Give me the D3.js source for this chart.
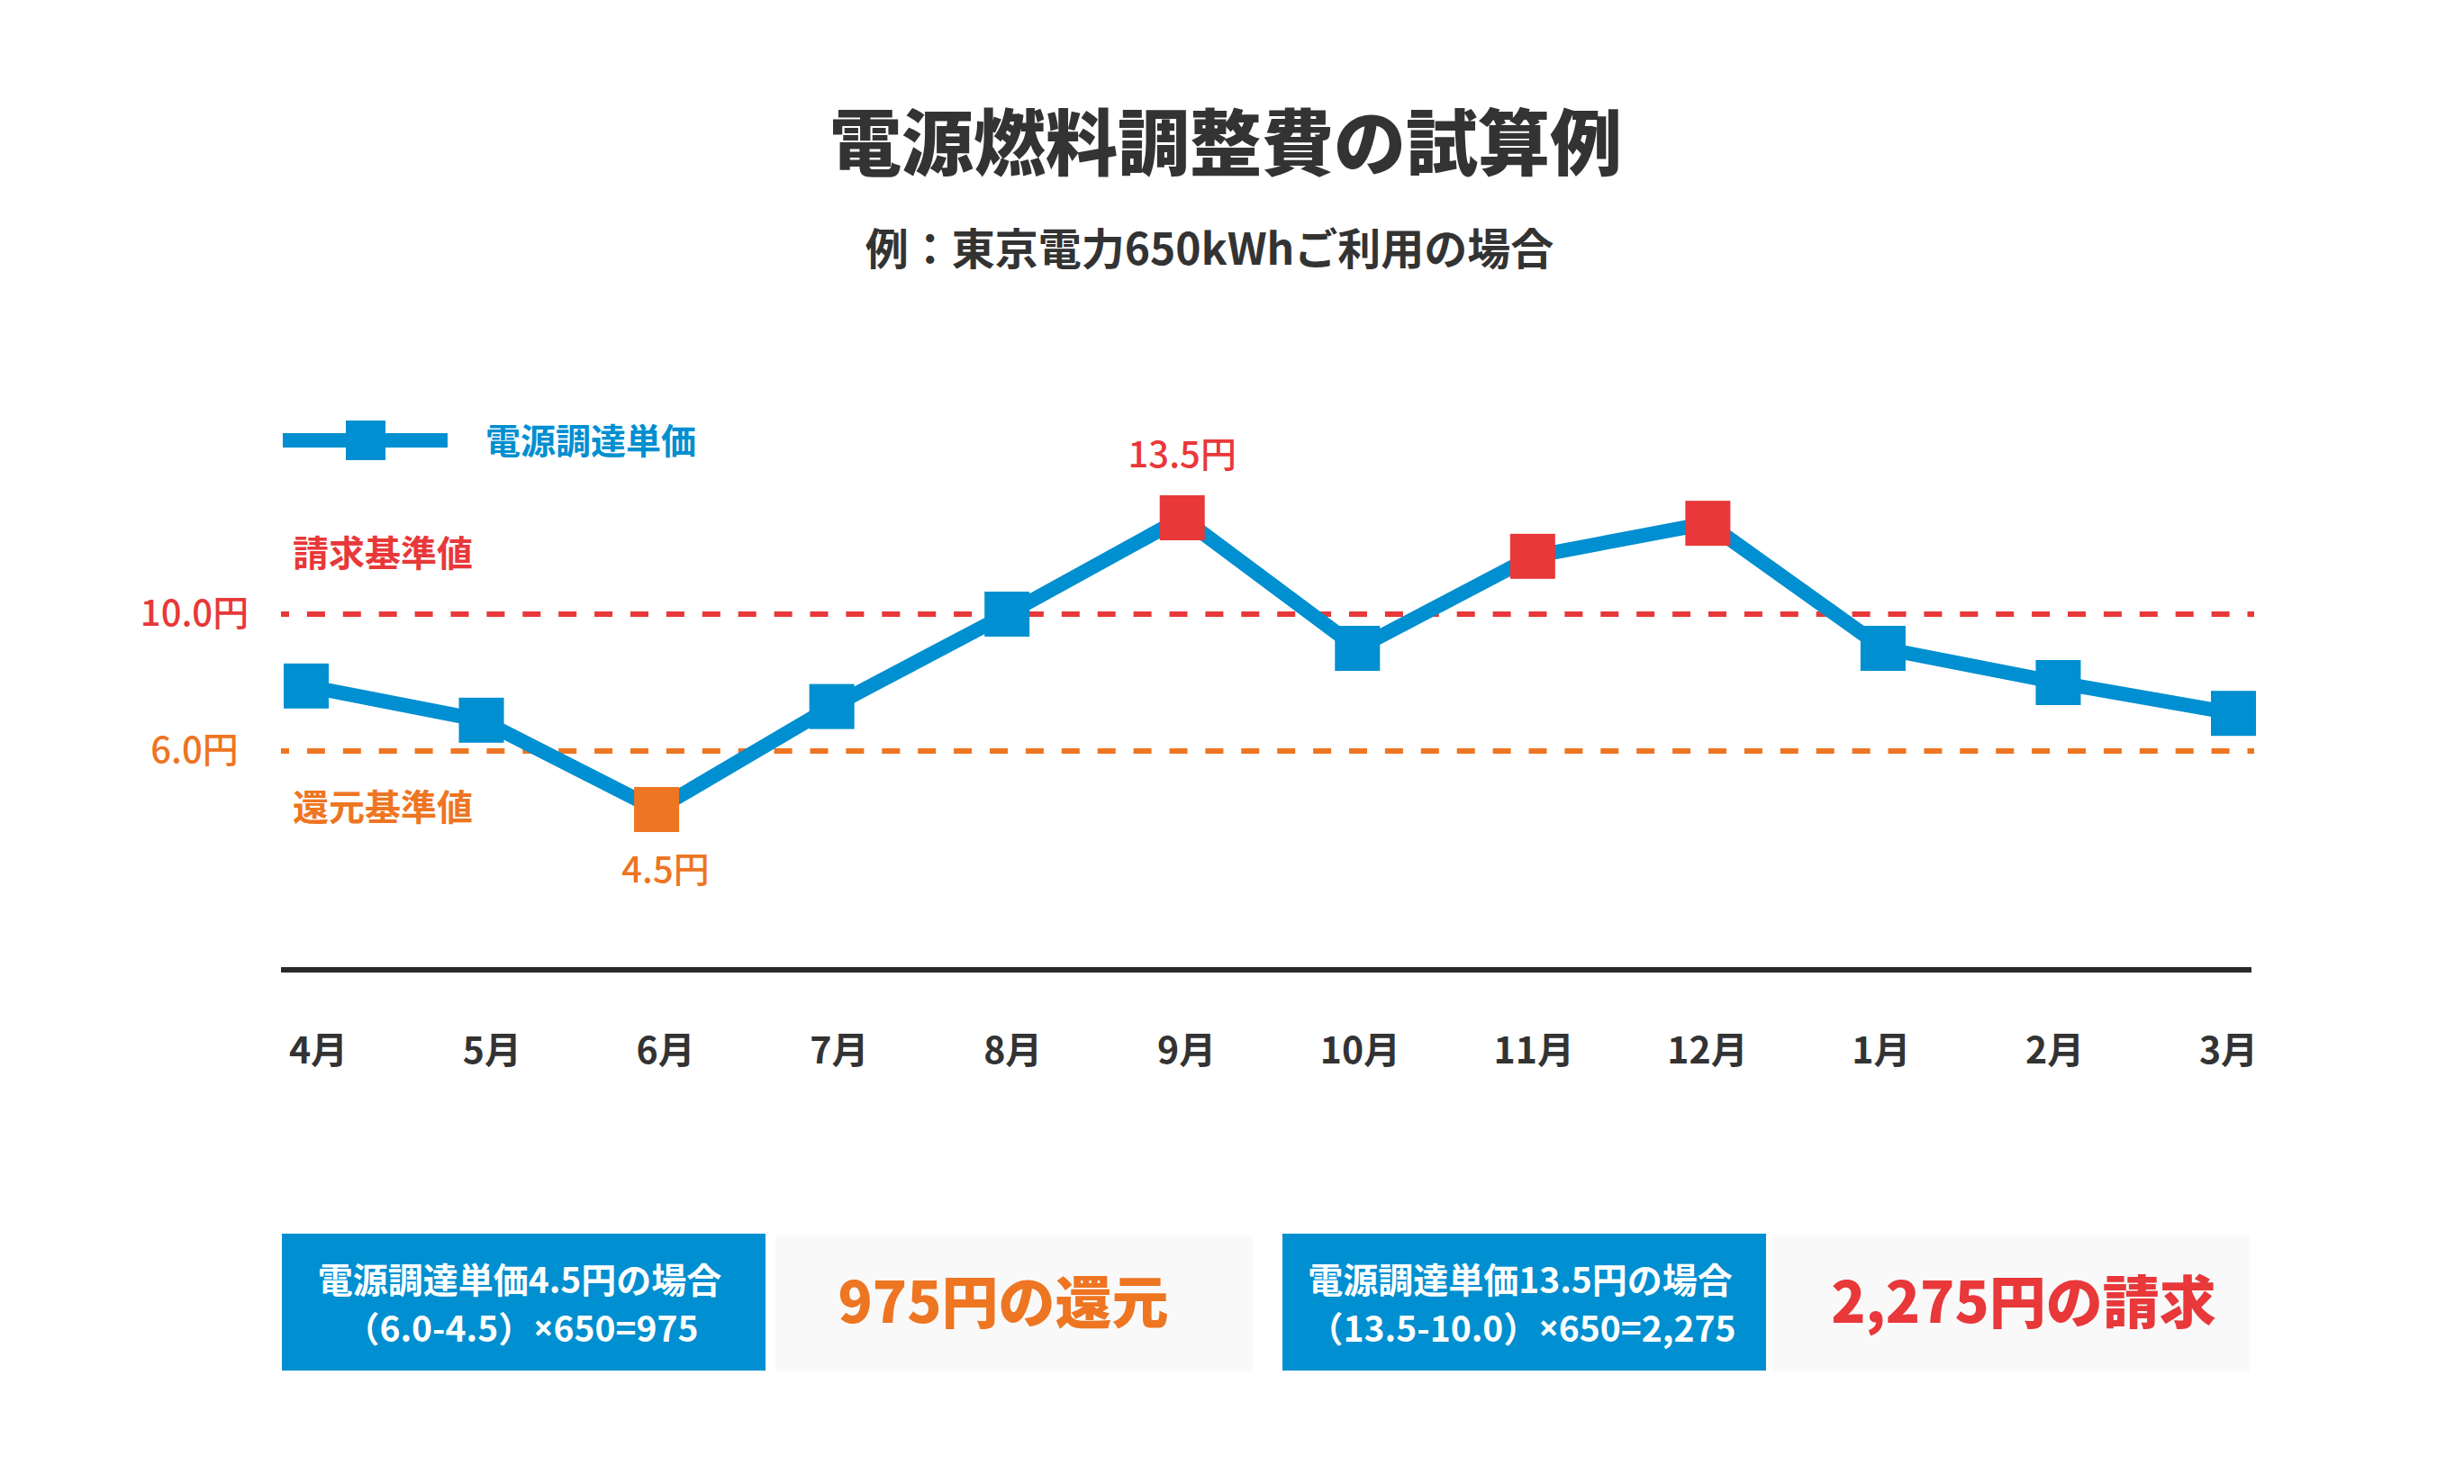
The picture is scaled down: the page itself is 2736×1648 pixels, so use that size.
<!DOCTYPE html>
<html lang="ja">
<head>
<meta charset="utf-8">
<script src="https://cdn.jsdelivr.net/npm/d3@7"></script>
<style>
  html, body { margin: 0; padding: 0; background: #ffffff; }
  svg { display: block; font-family: "Noto Sans CJK JP", "Noto Sans", sans-serif; }
</style>
</head>
<body>
<svg id="chart" width="2736" height="1648"></svg>
<script>
// ---- data ----
const months = ["4月", "5月", "6月", "7月", "8月", "9月", "10月", "11月", "12月", "1月", "2月", "3月"];
const unitPrices = [7.9, 6.9, 4.5, 7.3, 10.0, 13.5, 9.0, 12.1, 13.3, 9.0, 8.0, 7.1];
const billingBase = 10.0;   // 請求基準値
const refundBase = 6.0;     // 還元基準値
const thresholdLabels = ["10.0円", "6.0円"];
const thresholdNames = ["請求基準値", "還元基準値"];
const pointLabels = [{ month: "6月", text: "4.5円" }, { month: "9月", text: "13.5円" }];
const seriesName = "電源調達単価";
const titleText = "電源燃料調整費の試算例";
const subtitleText = "例：東京電力650kWhご利用の場合";
const boxTexts = [
  { line1: "電源調達単価4.5円の場合", line2: "（6.0-4.5）×650=975", result: "975円の還元", kind: "refund" },
  { line1: "電源調達単価13.5円の場合", line2: "（13.5-10.0）×650=2,275", result: "2,275円の請求", kind: "billing" }
];

// ---- styles ----
const BLUE = "#008fd0", RED = "#e8383a", ORANGE = "#ee7522", DARK = "#333333";

const svg = d3.select("#chart");

// scales
const x = d3.scalePoint().domain(months).range([340, 2480]);
const xLabel = d3.scalePoint().domain(months).range([353, 2474]);
// illustrative chart: not drawn to a single linear ratio
const y = d3.scaleLinear().domain([4.5, 6, 10, 13.5]).range([899, 834, 682, 575]);
const colorOf = v => v > billingBase ? RED : (v < refundBase ? ORANGE : BLUE);

// title
svg.append("text").attr("x", 1361).attr("y", 153)
  .attr("text-anchor", "middle").attr("dominant-baseline", "central")
  .attr("font-size", 80).attr("font-weight", 900).attr("fill", DARK).text(titleText);
svg.append("text").attr("x", 1343).attr("y", 273)
  .attr("text-anchor", "middle").attr("dominant-baseline", "central")
  .attr("font-size", 48).attr("font-weight", 700).attr("fill", DARK).text(subtitleText);

// legend
const lg = svg.append("g");
lg.append("line").attr("x1", 314).attr("x2", 497).attr("y1", 489).attr("y2", 489)
  .attr("stroke", BLUE).attr("stroke-width", 16);
lg.append("rect").attr("x", 406 - 22).attr("y", 489 - 22).attr("width", 44).attr("height", 44).attr("fill", BLUE);
lg.append("text").attr("x", 539).attr("y", 487).attr("dominant-baseline", "central")
  .attr("font-size", 39).attr("font-weight", 700).attr("fill", BLUE).text(seriesName);

// threshold lines
const thr = [
  { v: billingBase, c: RED, label: thresholdLabels[0], name: thresholdNames[0], nameDy: -70 },
  { v: refundBase, c: ORANGE, label: thresholdLabels[1], name: thresholdNames[1], nameDy: 60 }
];
thr.forEach(t => {
  svg.append("line").attr("x1", 312).attr("x2", 2503).attr("y1", y(t.v)).attr("y2", y(t.v))
    .attr("stroke", t.c).attr("stroke-width", 6)
    .attr("stroke-dasharray", "20 19.9").attr("stroke-dashoffset", 11);
  svg.append("text").attr("x", 216).attr("y", y(t.v) - 4)
    .attr("text-anchor", "middle").attr("dominant-baseline", "central")
    .attr("font-size", 40).attr("font-weight", 500).attr("fill", t.c).text(t.label);
  svg.append("text").attr("x", 325).attr("y", y(t.v) + t.nameDy)
    .attr("dominant-baseline", "central")
    .attr("font-size", 40).attr("font-weight", 700).attr("fill", t.c).text(t.name);
});

// baseline axis
const axisG = svg.append("g").attr("transform", "translate(0,1077)");
axisG.append("line").attr("x1", 312).attr("x2", 2500).attr("stroke", "#2a2a2a").attr("stroke-width", 6);
const xAxis = d3.axisBottom(xLabel).tickSize(0).tickPadding(0);
const ax = svg.append("g").attr("transform", "translate(0,1163)").call(xAxis);
ax.select(".domain").remove();
ax.selectAll("text").attr("dy", null).attr("y", 0).attr("dominant-baseline", "central")
  .attr("font-size", 41).attr("font-weight", 700).attr("fill", DARK)
  .attr("font-family", "'Noto Sans CJK JP', sans-serif");

// data line
const data = months.map((m, i) => ({ m, v: unitPrices[i] }));
svg.append("path").datum(data)
  .attr("fill", "none").attr("stroke", BLUE).attr("stroke-width", 16).attr("stroke-linejoin", "miter")
  .attr("d", d3.line().x(d => x(d.m)).y(d => y(d.v)));
svg.selectAll("rect.pt").data(data).enter().append("rect").attr("class", "pt")
  .attr("x", d => x(d.m) - 25).attr("y", d => y(d.v) - 25)
  .attr("width", 50).attr("height", 50).attr("fill", d => colorOf(d.v));

// point labels
pointLabels.forEach(p => {
  const v = unitPrices[months.indexOf(p.month)];
  const above = v > billingBase;
  svg.append("text").attr("x", x(p.month) + (above ? 0 : 10)).attr("y", y(v) + (above ? -73 : 64))
    .attr("text-anchor", "middle").attr("dominant-baseline", "central")
    .attr("font-size", 40).attr("font-weight", 500).attr("fill", colorOf(v)).text(p.text);
});

// bottom boxes
const boxLayout = [
  { bx: 313, lx: 861, rdx: -12 },
  { bx: 1424, lx: 1968, rdx: 14 }
];
boxTexts.forEach((b, i) => {
  const L = boxLayout[i];
  svg.append("rect").attr("x", L.bx).attr("y", 1370).attr("width", 537).attr("height", 152).attr("fill", BLUE);
  svg.append("rect").attr("x", L.lx).attr("y", 1372).attr("width", 530).attr("height", 151).attr("fill", "#f9f9f9");
  const cx = L.bx + 268;
  svg.append("text").attr("x", cx - 4).attr("y", 1419).attr("text-anchor", "middle").attr("dominant-baseline", "central")
    .attr("font-size", 39).attr("font-weight", 700).attr("fill", "#ffffff").text(b.line1);
  const parts = b.line2.split("×");
  const t2 = svg.append("text").attr("x", cx - 2).attr("y", 1473).attr("text-anchor", "middle").attr("dominant-baseline", "central")
    .attr("font-size", 39).attr("font-weight", 700).attr("fill", "#ffffff");
  t2.append("tspan").text(parts[0]);
  t2.append("tspan").attr("font-family", "'Noto Sans', sans-serif").text("×");
  t2.append("tspan").text(parts[1]);
  svg.append("text").attr("x", L.lx + 265 + L.rdx).attr("y", 1441).attr("text-anchor", "middle").attr("dominant-baseline", "central")
    .attr("font-size", 63).attr("font-weight", 800).attr("fill", b.kind === "refund" ? ORANGE : RED).text(b.result);
});
</script>
</body>
</html>
